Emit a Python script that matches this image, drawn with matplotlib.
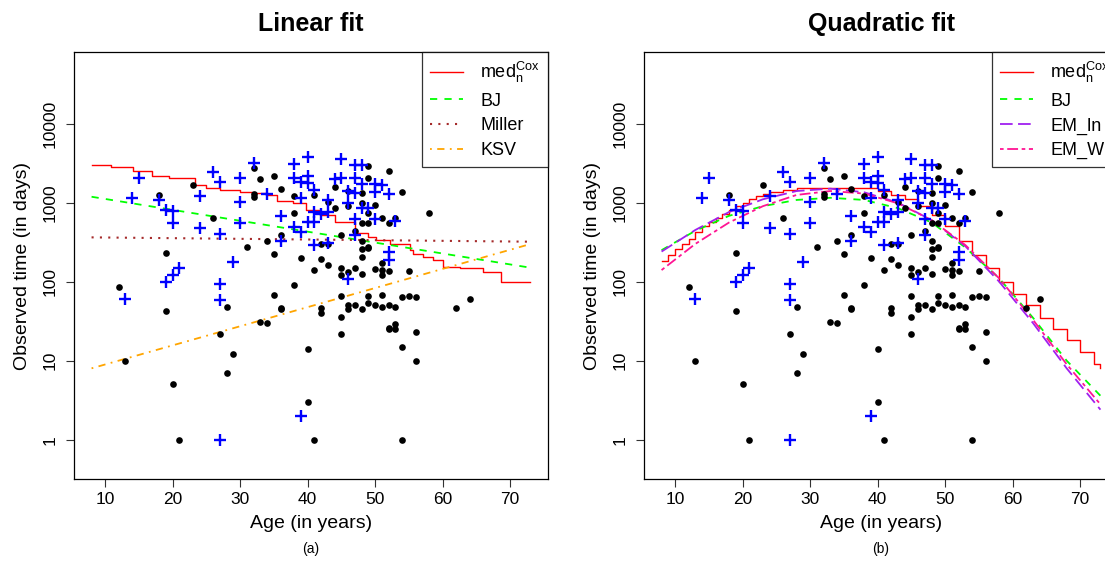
import matplotlib
matplotlib.use("Agg")
import matplotlib.pyplot as plt
import numpy as np

plt.rcParams["font.family"] = ["Liberation Sans", "DejaVu Sans"]
plt.rcParams["mathtext.fontset"] = "custom"
plt.rcParams["mathtext.rm"] = "Liberation Sans"
plt.rcParams["mathtext.it"] = "Liberation Sans:italic"

# ---- observed data (age in years, time in days) ----
dead_age = [12, 13, 18, 19, 19, 20, 21, 23, 26, 27, 28, 28, 29, 31,
            32, 32, 32, 33, 33, 34, 34, 35, 35, 35, 36, 36, 36, 36,
            38, 38, 38, 39, 40, 40, 41, 41, 41, 42, 42, 42, 42,
            43, 43, 43, 44, 44, 45, 45, 45, 45, 45, 45,
            46, 46, 46, 46, 46, 47, 47, 47,
            48, 48, 48, 48, 48, 48, 48, 48,
            49, 49, 49, 49, 49, 49, 49, 49,
            50, 50, 50, 51, 51, 51, 51, 51, 51,
            52, 52, 52, 52, 52, 52, 53, 53, 53, 53,
            54, 54, 54, 54, 55, 55, 56, 56, 56, 58, 62, 64]
dead_time = [86, 10, 1245, 228, 42, 5, 1, 1648, 637, 22, 48, 7, 12, 277,
             2755, 1290, 1170, 1982, 31, 330, 30, 2140, 224, 68, 1496, 385, 47, 45,
             1205, 736, 91, 197, 14, 3, 1265, 140, 1, 299, 193, 47, 40,
             1024, 299, 163, 1556, 844, 385, 147, 121, 65, 36, 22,
             1397, 912, 134, 50, 45, 437, 147, 51,
             1331, 995, 556, 323, 256, 203, 126, 45,
             2886, 2040, 730, 556, 277, 266, 66, 54,
             940, 146, 50, 631, 172, 140, 122, 68, 48,
             2500, 556, 138, 51, 26, 25, 631, 48, 29, 25,
             1355, 64, 15, 1, 138, 65, 63, 23, 10, 736, 47, 60]

cens_age = [13, 14, 15, 18, 19, 19, 20, 20, 20, 21, 24, 24, 26,
            27, 27, 27, 27, 27, 29, 30, 30, 30, 32, 34, 36, 36,
            38, 38, 38, 39, 39, 39, 39, 40, 40, 40, 40,
            41, 41, 41, 41, 42, 43, 43, 43, 44, 45, 45,
            46, 46, 46, 47, 47, 47, 47, 47, 48, 48, 48, 49,
            50, 50, 50, 51, 52, 52, 52, 53]
cens_time = [61, 1140, 2060, 1086, 804, 100, 789, 546, 123, 150, 1220, 481, 2404,
             1815, 404, 92, 58, 1, 179, 2060, 1015, 556, 3124, 1290, 682, 330,
             3063, 2040, 490, 1815, 1140, 420, 2, 3790, 2183, 1780, 561,
             1425, 766, 573, 288, 723, 1075, 766, 305, 1962, 3510, 2020,
             1397, 977, 108, 2946, 2040, 1306, 617, 388, 2946, 1713, 851, 860,
             1713, 1371, 625, 1648, 1290, 239, 188, 590]

# ---- linear fit curves ----
cox_lin_age = [8, 10.9, 14.2, 17.0, 19.5, 23.3, 25.0, 27.0, 30.0, 31.9, 33.9,
               35.5, 37.9, 39.8, 41.8, 44.0, 47.0, 47.2, 49.0, 50.2, 52.2,
               55.1, 55.6, 57.1, 58.6, 60.1, 62.5, 66.0, 68.7, 73]
cox_lin_med = [2946, 2780, 2500, 2183, 2060, 1648, 1510, 1438, 1371, 1306, 1245,
               1045, 975, 804, 700, 573, 450, 408, 363, 336, 299,
               251, 221, 207, 188, 155, 147, 134, 100, 100]
line_age = [8, 73]
bj_lin = [1185, 150]
miller_lin = [363, 320]
ksv_lin = [8.0, 299]

# ---- quadratic fit curves ----
quad_age = [8, 13, 18, 23, 28, 33, 38, 43, 48, 53, 58, 63, 68, 73]
bj_quad = [250, 440, 680, 900, 1080, 1150, 1080, 850, 560, 270, 110, 35, 10, 3.6]
emln_quad = [240, 450, 760, 1100, 1400, 1500, 1350, 1000, 600, 280, 100, 30, 8, 2.4]
emw_quad = [140, 300, 560, 900, 1250, 1400, 1300, 980, 600, 290, 110, 33, 9, 2.8]
cox_quad_age = [8, 9, 10, 11, 12, 13, 14, 15, 16, 17, 18, 19, 20, 21, 22, 23, 24,
                26, 28, 40, 42, 44, 46, 48, 50, 52, 54, 56, 58, 60, 62, 64,
                66, 68, 70, 72, 73]
cox_quad_med = [180, 220, 260, 300, 350, 420, 500, 560, 640, 720, 800, 900, 1000,
                1100, 1200, 1280, 1350, 1450, 1550, 1400, 1250, 1100, 900, 700,
                500, 330, 220, 150, 100, 70, 50, 35, 25, 18, 13, 9, 8]

W, H = 1105, 561
fig = plt.figure(figsize=(W / 100, H / 100), dpi=100)
box_l, box_b, box_w, box_h = 74, 479, 474, 427
axL = fig.add_axes([box_l / W, 1 - box_b / H, box_w / W, box_h / H])
axR = fig.add_axes([644 / W, 1 - box_b / H, box_w / W, box_h / H])

dash = (0, (4, 4))
dot = (0, (1, 3))
dotdash = (0, (1, 3, 4, 3))
longdash = (0, (7, 3))
twodash = (0, (2, 2, 6, 2))


def base(ax, title, tag):
    ax.set_yscale("log")
    ax.set_xlim(5.4, 75.6)
    ax.set_ylim(10 ** -0.497, 10 ** 4.905)
    ax.set_xticks([10, 20, 30, 40, 50, 60, 70])
    ax.set_yticks([1, 10, 100, 1000, 10000])
    ax.set_yticklabels(["1", "10", "100", "1000", "10000"], rotation=90, va="center")
    ax.minorticks_off()
    ax.tick_params(direction="out", length=6, width=0.8, labelsize=12.5, color="#333333")
    ax.tick_params(axis="x", pad=3)
    ax.tick_params(axis="y", pad=6)
    for s in ax.spines.values():
        s.set_linewidth(0.9)
    ax.set_xlabel("Age (in years)", fontsize=14, labelpad=6)
    ax.set_ylabel("Observed time (in days)", fontsize=14, labelpad=8)
    ax.set_title(title, fontsize=18, fontweight="bold", pad=15)
    ax.text(0.5, -0.165, tag, transform=ax.transAxes, ha="center", va="center", fontsize=10)
    ax.plot(dead_age, dead_time, "o", color="black", ms=4.8, mew=0, zorder=3)
    ax.plot(cens_age, cens_time, "+", color="blue", ms=9, mew=1.7, zorder=3)


base(axL, "Linear fit", "(a)")
axL.step(cox_lin_age, cox_lin_med, where="post", color="red", lw=1.0,
         label=r"med$_{\mathrm{n}}^{\mathrm{Cox}}$")
axL.plot(line_age, bj_lin, color="#00FF00", lw=1.3, ls=dash, label="BJ")
axL.plot(line_age, miller_lin, color="#A52A2A", lw=1.5, ls=dot, label="Miller")
axL.plot(line_age, ksv_lin, color="#FFA500", lw=1.3, ls=dotdash, label="KSV")

base(axR, "Quadratic fit", "(b)")
axR.step(cox_quad_age, cox_quad_med, where="post", color="red", lw=1.0,
         label=r"med$_{\mathrm{n}}^{\mathrm{Cox}}$")
axR.plot(quad_age, bj_quad, color="#00FF00", lw=1.3, ls=dash, label="BJ")
axR.plot(quad_age, emln_quad, color="#A020F0", lw=1.3, ls=longdash, label="EM_ln")
axR.plot(quad_age, emw_quad, color="#FF1493", lw=1.3, ls=twodash, label="EM_W")

for ax in (axL, axR):
    leg = ax.legend(loc="upper right", fontsize=13, frameon=True, fancybox=False,
                    borderaxespad=0, handlelength=1.85, handletextpad=0.95,
                    labelspacing=0.42, borderpad=0.45)
    leg.get_frame().set_edgecolor("black")
    leg.get_frame().set_linewidth(0.9)

fig.savefig("out.png", dpi=100)
